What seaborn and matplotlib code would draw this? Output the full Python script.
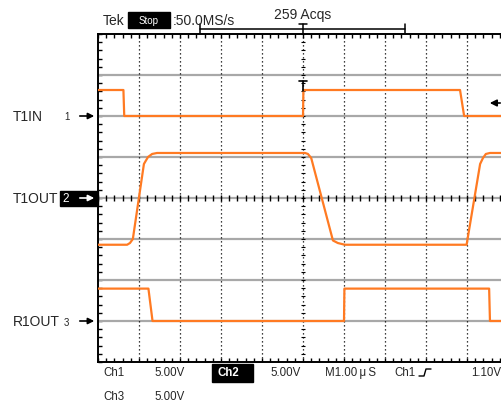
import numpy as np
import matplotlib
matplotlib.use("Agg")
import matplotlib.pyplot as plt
import seaborn as sns
from matplotlib.patches import Rectangle, FancyArrowPatch
from matplotlib.lines import Line2D

# ---------------- data (time in microseconds, amplitude in volts) ----------------
ch1_t = [-5.0, -4.38, -4.36, 0.0, 0.01, 3.83, 3.93, 5.0]
ch1_v = [3.17, 3.17, 0.0, 0.0, 3.17, 3.17, 0.0, 0.0]

ch2_t = [-5.0, -4.29, -4.22, -4.15, -3.88, -3.78, -3.68, -3.56, 0.05, 0.12, 0.20,
         0.73, 0.85, 1.02, 3.99, 4.32, 4.39, 4.46, 4.56, 5.0]
ch2_v = [-5.7, -5.7, -5.49, -5.0, 4.15, 5.0, 5.37, 5.49, 5.49, 5.37, 4.88,
         -5.18, -5.49, -5.7, -5.7, 4.15, 4.88, 5.37, 5.49, 5.49]

ch3_t = [-5.0, -3.77, -3.67, 1.0, 1.01, 4.54, 4.56, 5.0]
ch3_v = [3.95, 3.95, 0.0, 0.0, 3.95, 3.95, 0.0, 0.0]

ch_names = ["T1IN", "T1OUT", "R1OUT"]
ch_ground_div = [6.0, 4.0, 1.0]     # ground marker positions (divisions from bottom)
volts_per_div = 5.0

bottom_labels = ["Ch1", "5.00V", "Ch2", "5.00V", "M1.00\u2009\u03bc\u2009S", "Ch1", "1.10V", "Ch3", "5.00V"]

# ---------------- style ----------------
sns.set_style("white")
plt.rcParams["font.family"] = ["Liberation Sans", "DejaVu Sans"]

W, H = 502, 402
fig = plt.figure(figsize=(W / 100, H / 100), dpi=100)
fig.patch.set_facecolor("white")


def P(x, y):
    return (x / W, 1 - y / H)


# axes: graticule from x=98..508 px, y=35..363 px
ax = fig.add_axes([98 / W, (H - 363) / H, 410 / W, 328 / H])
ax.set_xlim(-5, 5)
ax.set_ylim(0, 8)
ax.set_facecolor("white")

orange = "#FF7A22"

# graticule
for yy in range(1, 8):
    ax.axhline(yy, color="#a8a8a8", lw=1.6, zorder=1)
for xx in range(-4, 5):
    ax.axvline(xx, color="black", lw=0.9, ls=(0, (1, 2.2)), zorder=1)
fine = np.arange(-5, 5.001, 0.2)
ax.vlines(fine, 4 - 0.08, 4 + 0.08, color="black", lw=1.0, zorder=2)
finey = np.arange(0, 8.001, 0.2)
ax.hlines(finey, -0.05, 0.05, color="black", lw=0.8, zorder=2)

for s in ["top", "bottom", "left"]:
    ax.spines[s].set_visible(True)
    ax.spines[s].set_color("black")
    ax.spines[s].set_linewidth(1.4)
ax.spines["right"].set_visible(False)
ax.set_xticks(fine)
ax.set_yticks(finey)
ax.tick_params(axis="both", which="both", direction="in", length=3.2, width=1.0,
               top=True, bottom=True, left=True, right=False,
               labelbottom=False, labelleft=False, color="black")
ax.grid(False)

# traces
chans = [(ch1_t, ch1_v), (ch2_t, ch2_v), (ch3_t, ch3_v)]
for (t, v), g in zip(chans, ch_ground_div):
    y = [g + vv / volts_per_div for vv in v]
    sns.lineplot(x=t, y=y, ax=ax, color=orange, lw=1.6, sort=False,
                 estimator=None, zorder=3)
ax.set_xlabel("")
ax.set_ylabel("")

# trigger T marker inside graticule
ax.add_line(Line2D([-0.1, 0.1], [(363 - 82) / 41] * 2, color="black", lw=1.2, zorder=4))
ax.add_line(Line2D([0.0, 0.0], [(363 - 82) / 41, (363 - 92) / 41],
                   color="black", lw=1.2, zorder=4))

# ---------------- header ----------------
fig.text(*P(103, 21), "Tek", fontsize=10, va="center", ha="left")
fig.add_artist(Rectangle(P(128, 29), 42 / W, 16 / H, transform=fig.transFigure,
                         color="black", zorder=5))
fig.text(*P(149, 21), "Stop", fontsize=7, color="white", va="center", ha="center", zorder=6)
fig.text(*P(173, 21), ":50.0MS/s", fontsize=10, va="center", ha="left")
fig.text(*P(303, 15), "259 Acqs", fontsize=10, va="center", ha="center")
# record bar
for seg in [((200, 29.5), (405, 29.5)), ((200, 25), (200, 34)), ((405, 25), (405, 34)),
            ((299, 25), (307, 25)), ((303, 25), (303, 34))]:
    (x0, y0), (x1, y1) = seg
    fig.add_artist(Line2D([x0 / W, x1 / W], [1 - y0 / H, 1 - y1 / H],
                          transform=fig.transFigure, color="black", lw=1.1))

# ---------------- channel labels ----------------
label_y = [117, 199, 322]
for name, yy, num in zip(ch_names, label_y, ["1", "2", "3"]):
    fig.text(*P(13, yy), name, fontsize=10, va="center", ha="left")
    if num == "2":
        fig.add_artist(Rectangle(P(60, 207), 38 / W, 15 / H, transform=fig.transFigure,
                                 color="black", zorder=5))
        fig.text(*P(62, yy), num, fontsize=8.5, color="white", va="center", ha="left", zorder=6)
        col = "white"
    else:
        fig.text(*P(64, yy + 0.5), num, fontsize=7, va="center", ha="left")
        col = "black"
    fig.add_artist(FancyArrowPatch(P(77, yy), P(97, yy), transform=fig.transFigure,
                                   arrowstyle="-|>", mutation_scale=9, color=col,
                                   lw=1.2, zorder=7))

# trigger level arrow (right side)
fig.add_artist(FancyArrowPatch(P(503, 104), P(487, 104), transform=fig.transFigure,
                               arrowstyle="-|>", mutation_scale=10, color="black",
                               lw=1.2, zorder=7))

# ---------------- footer ----------------
fig.add_artist(Rectangle(P(212, 383), 41 / W, 18 / H, transform=fig.transFigure,
                         color="black", zorder=5))
pos = [(103, 373), (154, 373), (218, 373), (270, 373), (325, 373), (394, 373),
       (471, 373), (103, 397), (154, 397)]
for lab, (x, y) in zip(bottom_labels, pos):
    kw = {}
    if lab == "Ch2":
        kw = dict(color="white", fontweight="bold", zorder=6)
    fig.text(*P(x, y), lab, fontsize=8.3, va="center", ha="left", **kw)

# rising edge symbol
xs = [419, 424, 426, 431]
ys = [377, 377, 370, 370]
fig.add_artist(Line2D([x / W for x in xs], [1 - y / H for y in ys],
                      transform=fig.transFigure, color="black", lw=1.0))

fig.savefig("out.png", dpi=100)
